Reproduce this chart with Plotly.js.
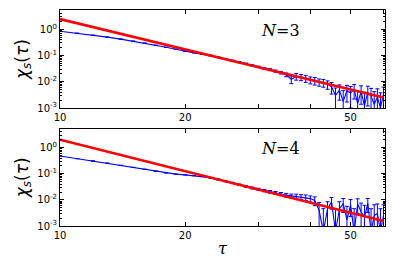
<!DOCTYPE html>
<html>
<head>
<meta charset="utf-8">
<script src="https://cdn.plot.ly/plotly-3.0.1.min.js"></script>
<style>html,body{margin:0;padding:0;background:#fff;}#plot{width:395px;height:263px;}</style>
</head>
<body>
<div id="plot"></div>
<script>
const tau = [10,11,12,13,14,15,16,17,18,19,20,21,22,23,24,25,26,27,28,29,30,31,32,33,34,35,36,37,38,39,40,41,42,43,44,45,46,47,48,49,50,51,52,53,54,55,56,57,58,59,60];

const chiN3 = [0.83,0.70,0.59,0.50,0.42,0.35,0.295,0.245,0.205,0.172,0.145,0.126,0.113,0.099,0.086,0.074,0.064,0.056,0.049,0.0425,0.037,0.0325,0.029,0.0255,0.0222,0.0185,0.0125,0.0160,0.0150,0.0135,0.0118,0.0110,0.0098,0.0092,0.0080,0.0064,0.0030,0.0048,0.0018,0.0045,0.0038,0.0050,0.0015,0.0042,0.0012,0.0040,0.0028,0.0014,0.0026,0.0010,0.0035];
const errN3 = [0,0,0,0,0,0,0,0,0,0,0,0,0.004,0.0035,0.003,0.003,0.0028,0.0026,0.0024,0.0024,0.0024,0.0024,0.0024,0.0024,0.0024,0.003,0.004,0.0045,0.004,0.004,0.0035,0.0035,0.003,0.003,0.0028,0.003,0.0028,0.0028,0.0028,0.0028,0.0028,0.0028,0.0028,0.0028,0.0028,0.0028,0.0028,0.0028,0.0028,0.0028,0.0028];

const chiN4 = [0.48,0.38,0.31,0.255,0.21,0.175,0.148,0.125,0.108,0.097,0.091,0.085,0.078,0.070,0.0605,0.052,0.0445,0.038,0.0325,0.0285,0.0255,0.0228,0.0205,0.0185,0.0168,0.0152,0.0142,0.0138,0.0130,0.0125,0.0112,0.0095,0.0040,0.0006,0.0045,0.0084,0.0006,0.0045,0.0073,0.0017,0.0063,0.0006,0.0070,0.0035,0.0022,0.0073,0.0006,0.0025,0.0030,0.0006,0.0025];
const errN4 = [0,0,0,0,0,0,0,0,0,0,0,0,0,0.003,0.003,0.0028,0.0026,0.0024,0.0024,0.0024,0.0024,0.0024,0.0024,0.0024,0.0024,0.0025,0.0025,0.0028,0.0028,0.003,0.003,0.0035,0.004,0.004,0.004,0.004,0.004,0.004,0.004,0.004,0.004,0.004,0.004,0.004,0.004,0.004,0.004,0.004,0.004,0.004,0.004];

const fitTau = [10, 60];
const fitN3 = [2.43, 0.0025];
const fitN4 = [2.0, 0.00154];

const xTickVals = [10,20,50];
const xTickText = ['10','20','50'];
const xMinorVals = [30,40,60];
const yTickVals = [0.001,0.01,0.1,1];
const yTickText = ['10<sup>-3</sup>','10<sup>-2</sup>','10<sup>-1</sup>','10<sup>0</sup>'];
const panelLabels = ['<i>N</i>=3','<i>N</i>=4'];

const blue = '#0000ff', red = '#ff0000';

function blueTrace(y, e, xa, ya){
  return {x: tau, y: y, xaxis: xa, yaxis: ya, mode: 'lines', type: 'scatter',
    line: {color: blue, width: 1.1},
    error_y: {type: 'data', array: e, visible: true, color: blue, thickness: 1, width: 2},
    showlegend: false, hoverinfo: 'skip'};
}
function redTrace(y, xa, ya){
  return {x: fitTau, y: y, xaxis: xa, yaxis: ya, mode: 'lines', type: 'scatter',
    line: {color: red, width: 2.6}, showlegend: false, hoverinfo: 'skip'};
}

const data = [
  blueTrace(chiN3, errN3, 'x', 'y'), redTrace(fitN3, 'x', 'y'),
  blueTrace(chiN4, errN4, 'x2', 'y2'), redTrace(fitN4, 'x2', 'y2')
];

const tickFont = {family: 'DejaVu Sans', size: 10, color: '#000'};
function xax(anchor){
  return {type: 'log', range: [1, Math.log10(60.5)], anchor: anchor, domain: [0,1],
    tickmode: 'array', tickvals: xTickVals, ticktext: xTickText,
    ticks: 'inside', ticklen: 4, tickcolor: '#000', tickwidth: 1,
    minor: {tickmode: 'array', tickvals: xMinorVals, ticks: 'inside', ticklen: 4, tickcolor: '#000', showgrid: false},
    showline: true, linecolor: '#000', linewidth: 1, mirror: 'ticks',
    showgrid: false, zeroline: false, tickfont: tickFont};
}
function yax(anchor, dom, title){
  return {type: 'log', range: [-3, 0.73], anchor: anchor, domain: dom,
    tickmode: 'array', tickvals: yTickVals, ticktext: yTickText,
    ticks: 'inside', ticklen: 4, tickcolor: '#000', tickwidth: 1,
    minor: {dtick: 'D1', ticks: 'inside', ticklen: 2, tickcolor: '#000', showgrid: false},
    showline: true, linecolor: '#000', linewidth: 1, mirror: 'ticks',
    showgrid: false, zeroline: false, tickfont: tickFont,
    title: {text: title, font: {family: 'DejaVu Sans', size: 17, color: '#000'}, standoff: 4}};
}

const ytitle = '<i>χ<sub>s</sub></i>(<i>τ</i>)';
const layout = {
  width: 395, height: 263,
  margin: {l: 60, r: 10, t: 10, b: 37},
  paper_bgcolor: '#fff', plot_bgcolor: '#fff',
  xaxis: xax('y'),
  yaxis: yax('x', [0.546, 1], ytitle),
  xaxis2: Object.assign(xax('y2'), {title: {text: '<i>τ</i>', font: {family: 'DejaVu Serif', size: 16, color: '#000'}, standoff: 2}}),
  yaxis2: yax('x2', [0, 0.451], ytitle),
  annotations: [
    {text: panelLabels[0], xref: 'paper', yref: 'paper', x: 0.677, y: 0.905, xanchor: 'center', yanchor: 'middle', showarrow: false,
     font: {family: 'DejaVu Serif', size: 16, color: '#000'}},
    {text: panelLabels[1], xref: 'paper', yref: 'paper', x: 0.677, y: 0.36, xanchor: 'center', yanchor: 'middle', showarrow: false,
     font: {family: 'DejaVu Serif', size: 16, color: '#000'}}
  ]
};

Plotly.newPlot('plot', data, layout, {staticPlot: true, displayModeBar: false});
</script>
</body>
</html>
